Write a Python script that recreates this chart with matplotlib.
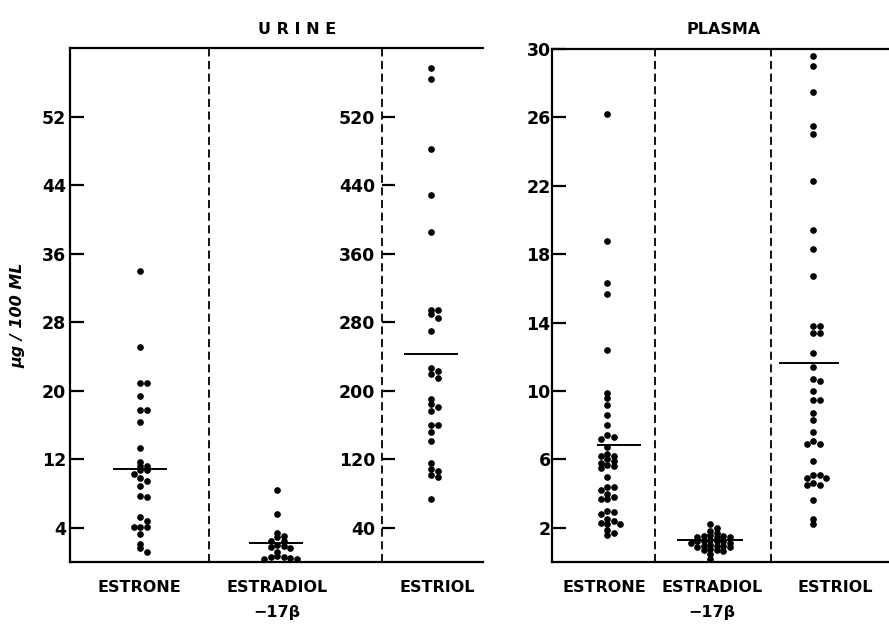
import numpy as np
import matplotlib.pyplot as plt

# --- values (ug / 100 ml) ---
urine_estrone = [34.0, 25.1, 20.9, 20.9, 19.4, 17.7, 17.7, 16.4, 13.3, 11.7, 11.2, 11.2,
                 10.7, 10.7, 10.3, 9.8, 9.4, 8.9, 7.7, 7.6, 5.2, 4.8, 4.1, 4.1, 4.1,
                 3.3, 2.1, 1.6, 1.2]
urine_estradiol = [8.4, 5.6, 3.4, 3.0, 2.9, 2.5, 2.5, 2.0, 1.9, 1.8, 1.6, 1.2,
                   0.7, 0.6, 0.6, 0.5, 0.3, 0.3]
urine_estriol = [577, 564, 482, 428, 385, 294, 294, 289, 285, 270, 227, 223, 219, 215,
                 190, 185, 181, 176, 160, 160, 152, 141, 115, 108, 106, 101, 99, 73]
plasma_estrone = [26.2, 18.8, 16.3, 15.7, 12.4, 9.9, 9.6, 9.2, 8.6, 8.0, 7.4, 7.3, 7.2,
                  6.7, 6.3, 6.2, 6.2, 6.0, 5.9, 5.8, 5.7, 5.6, 5.5, 5.0, 4.4, 4.4, 4.2,
                  4.0, 3.8, 3.7, 3.7, 3.0, 2.9, 2.8, 2.5, 2.4, 2.3, 2.2, 2.2, 1.9, 1.7, 1.6]
plasma_estradiol = [2.2, 2.0, 1.8, 1.7, 1.55, 1.5, 1.5, 1.45, 1.45, 1.45, 1.3, 1.25, 1.25,
                    1.2, 1.2, 1.1, 1.1, 1.0, 0.95, 0.95, 0.95, 0.9, 0.85, 0.75, 0.7, 0.7,
                    0.65, 0.45, 0.2]
plasma_estriol = [29.6, 29.0, 27.5, 25.5, 25.0, 22.3, 19.4, 18.3, 16.7, 13.8, 13.8, 13.4,
                  13.4, 12.2, 11.4, 10.7, 10.6, 10.0, 9.5, 9.5, 8.7, 8.3, 7.6, 7.1, 6.9,
                  6.9, 5.9, 5.1, 5.1, 4.9, 4.9, 4.6, 4.5, 4.5, 3.6, 2.5, 2.2]

# horizontal bars as drawn
urine_bars = [10.85, 2.2, 243]
plasma_bars = [6.87, 1.27, 11.65]

categories = ['ESTRONE', 'ESTRADIOL', 'ESTRIOL']
urine_ticks = [4, 12, 20, 28, 36, 44, 52]
estriol_ticks = [40, 120, 200, 280, 360, 440, 520]
plasma_ticks = [2, 6, 10, 14, 18, 22, 26, 30]

plt.rcParams['font.family'] = 'DejaVu Sans'
plt.rcParams['font.weight'] = 'bold'

W, H = 889, 624
fig = plt.figure(figsize=(W / 100, H / 100), dpi=100)


def box(l, t, r, b):
    return [l / W, 1 - b / H, (r - l) / W, (b - t) / H]


def swarm(vals, px_per_unit, d=4.2, step=6.5):
    # simple beeswarm: push overlapping dots sideways (in pixels, 100 px = 1 x unit)
    placed, offs = [], []
    for v in vals:
        y = v * px_per_unit
        for k in [0, 1, -1, 2, -2, 3, -3, 4, -4]:
            x = k * step
            if all((x - px) ** 2 + (y - py) ** 2 >= d * d for px, py in placed):
                break
        placed.append((x, y))
        offs.append(x / 100)
    return np.array(offs)


def style_axis(ax, ticks, length, pad):
    ax.set_yticks(ticks)
    ax.set_xticks([])
    ax.tick_params(axis='y', direction='in', length=length, width=1.6,
                   labelsize=12.5, pad=pad)
    for s in ax.spines.values():
        s.set_linewidth(1.6)
    ax.spines['right'].set_visible(False)


def dots(ax, center, vals, ppu):
    x = center + swarm(vals, ppu)
    ax.plot(x, vals, 'o', color='black', ms=3.8, mec='black', clip_on=False)


def bar(ax, center, hw, val):
    ax.hlines(val, center - hw, center + hw, color='black', lw=1.4)


dash = (0, (4.5, 2.5))

# --- URINE ---
ax_u = fig.add_axes(box(70, 48, 483, 562))
ax_u.set_xlim(0, 4.13)
ax_u.set_ylim(0, 60)
style_axis(ax_u, urine_ticks, 10, 3)
for xd in [1.39, 3.12]:
    ax_u.axvline(xd, color='black', lw=1.3, ls=dash)

ppu_u = 514 / 60
dots(ax_u, 0.70, urine_estrone, ppu_u)
dots(ax_u, 2.07, urine_estradiol, ppu_u)
bar(ax_u, 0.695, 0.27, urine_bars[0])
bar(ax_u, 2.06, 0.27, urine_bars[1])

# estriol on its own scale, ticks on the second divider
ax_e = fig.add_axes(box(70, 48, 483, 562))
ax_e.patch.set_visible(False)
ax_e.set_xlim(0, 4.13)
ax_e.set_ylim(0, 600)
for s in ax_e.spines.values():
    s.set_visible(False)
ax_e.spines['left'].set_position(('data', 3.12))
ax_e.set_yticks(estriol_ticks)
ax_e.set_xticks([])
ax_e.tick_params(axis='y', direction='in', length=9, width=1.6, labelsize=12.5, pad=5)
dots(ax_e, 3.61, urine_estriol, ppu_u / 10)
bar(ax_e, 3.61, 0.27, urine_bars[2])

# --- PLASMA ---
ax_p = fig.add_axes(box(552, 49, 889, 562))
ax_p.set_xlim(0, 3.37)
ax_p.set_ylim(0, 30)
style_axis(ax_p, plasma_ticks, 10, 1)
for xd in [1.03, 2.19]:
    ax_p.axvline(xd, color='black', lw=1.3, ls=dash)

ppu_p = 513 / 30
dots(ax_p, 0.55, plasma_estrone, ppu_p)
dots(ax_p, 1.58, plasma_estradiol, ppu_p)
dots(ax_p, 2.61, plasma_estriol, ppu_p)
bar(ax_p, 0.665, 0.22, plasma_bars[0])
bar(ax_p, 1.58, 0.33, plasma_bars[1])
bar(ax_p, 2.57, 0.30, plasma_bars[2])

# --- text ---
fig.text(297 / W, 1 - 30 / H, 'U R I N E', ha='center', va='center', fontsize=11.5)
fig.text(724 / W, 1 - 30 / H, 'PLASMA', ha='center', va='center', fontsize=11.5)
fig.text(18 / W, 1 - 315 / H, 'μg / 100 ML', rotation=90, ha='center', va='center',
         fontsize=11.5, style='italic')

for xs in ([139, 277, 437], [604, 712, 835]):
    for xc, name in zip(xs, categories):
        fig.text(xc / W, 1 - 587 / H, name, ha='center', va='center', fontsize=11.5)
    fig.text(xs[1] / W, 1 - 612 / H, '−17β', ha='center', va='center', fontsize=11.5)

fig.savefig('out.png', dpi=100)
